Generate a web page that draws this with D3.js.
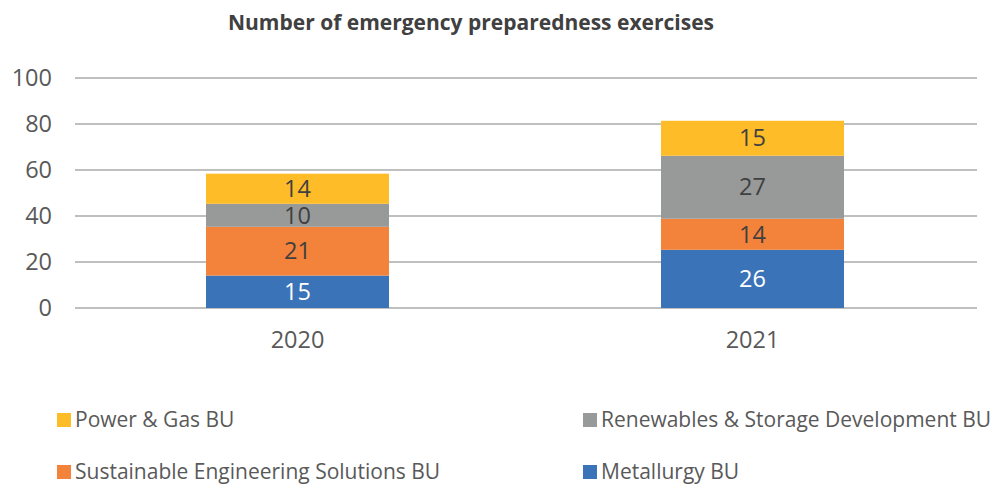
<!DOCTYPE html>
<html>
<head>
<meta charset="utf-8">
<script src="https://cdn.jsdelivr.net/npm/d3@7"></script>
<style>
  body { margin: 0; background: #fff; }
  svg text { font-family: "Open Sans", "Noto Sans", sans-serif; }
</style>
</head>
<body>
<svg width="993" height="490"></svg>
<script>
'use strict';

// data
var years = ["2020", "2021"];
var series = ["Metallurgy BU", "Sustainable Engineering Solutions BU", "Renewables & Storage Development BU", "Power & Gas BU"];
var metallurgy = [14.1, 25.3];
var sustainable = [21.2, 13.5];
var renewables = [10.0, 27.4];
var powerGas = [13.1, 15.2];
// printed labels on segments
var labelMetallurgy = ["15", "26"];
var labelSustainable = ["21", "14"];
var labelRenewables = ["10", "27"];
var labelPowerGas = ["14", "15"];
var yTicks = [0, 20, 40, 60, 80, 100];

var colors = {
  "Metallurgy BU": "#3b73b9",
  "Sustainable Engineering Solutions BU": "#f3823a",
  "Renewables & Storage Development BU": "#989a9a",
  "Power & Gas BU": "#fdbc28"
};
var textColors = {
  "Metallurgy BU": "#ffffff",
  "Sustainable Engineering Solutions BU": "#404040",
  "Renewables & Storage Development BU": "#404040",
  "Power & Gas BU": "#404040"
};

var FS = 21;       // title + legend
var FS_AX = 23.5;  // axis + data labels
var svg = d3.select("svg");
var margin = {left: 75, right: 16, top: 78, bottom: 182};
var width = 993 - margin.left - margin.right;
var height = 490 - margin.top - margin.bottom;

var rows = years.map(function(y, i) {
  return {
    year: y,
    "Metallurgy BU": metallurgy[i],
    "Sustainable Engineering Solutions BU": sustainable[i],
    "Renewables & Storage Development BU": renewables[i],
    "Power & Gas BU": powerGas[i]
  };
});
var labels = {
  "Metallurgy BU": labelMetallurgy,
  "Sustainable Engineering Solutions BU": labelSustainable,
  "Renewables & Storage Development BU": labelRenewables,
  "Power & Gas BU": labelPowerGas
};

var stacked = d3.stack().keys(series)(rows);

var x = d3.scaleBand().domain(years).range([-5, width + 3]).padding(0);
var barW = 183;
var y = d3.scaleLinear().domain([0, 100]).range([height, 0]);

var g = svg.append("g")
  .attr("transform", "translate(" + margin.left + "," + margin.top + ")");

// title
svg.append("text")
  .attr("x", 471)
  .attr("y", 30)
  .attr("text-anchor", "middle")
  .attr("font-size", FS)
  .attr("font-weight", "bold")
  .attr("fill", "#404040")
  .text("Number of emergency preparedness exercises");

// gridlines
g.selectAll(".grid")
  .data(yTicks)
  .enter().append("line")
  .attr("class", "grid")
  .attr("x1", 0)
  .attr("x2", width)
  .attr("y1", function(d) { return y(d); })
  .attr("y2", function(d) { return y(d); })
  .attr("stroke", "#bfbfbf")
  .attr("stroke-width", 2);

// y axis labels
var yAxis = d3.axisLeft(y).tickValues(yTicks).tickSize(0).tickPadding(23);
g.append("g")
  .attr("class", "yaxis")
  .call(yAxis)
  .call(function(a) { a.select(".domain").remove(); })
  .selectAll("text")
  .attr("font-size", FS_AX)
  .attr("fill", "#595959")
  .attr("font-family", "Open Sans, Noto Sans, sans-serif");

// bars
var layer = g.selectAll(".layer")
  .data(stacked)
  .enter().append("g")
  .attr("class", "layer")
  .attr("fill", function(d) { return colors[d.key]; });

layer.selectAll("rect")
  .data(function(d) { return d; })
  .enter().append("rect")
  .attr("x", function(d) { return x(d.data.year) + x.bandwidth() / 2 - barW / 2; })
  .attr("width", barW)
  .attr("y", function(d) { return y(d[1]); })
  .attr("height", function(d) { return y(d[0]) - y(d[1]); });

// segment labels
stacked.forEach(function(s) {
  g.selectAll(".lbl-" + s.index)
    .data(s)
    .enter().append("text")
    .attr("x", function(d) { return x(d.data.year) + x.bandwidth() / 2; })
    .attr("y", function(d) { return (y(d[0]) + y(d[1])) / 2; })
    .attr("dy", "0.35em")
    .attr("text-anchor", "middle")
    .attr("font-size", FS_AX)
    .attr("fill", textColors[s.key])
    .text(function(d, i) { return labels[s.key][i]; });
});

// x axis labels
var xAxis = d3.axisBottom(x).tickSize(0).tickPadding(23);
g.append("g")
  .attr("class", "xaxis")
  .attr("transform", "translate(0," + height + ")")
  .call(xAxis)
  .call(function(a) { a.select(".domain").remove(); })
  .selectAll("text")
  .attr("font-size", FS_AX)
  .attr("fill", "#595959")
  .attr("font-family", "Open Sans, Noto Sans, sans-serif");

// legend
var legendItems = [
  {key: "Power & Gas BU", x: 57, y: 420},
  {key: "Renewables & Storage Development BU", x: 583, y: 420},
  {key: "Sustainable Engineering Solutions BU", x: 57, y: 472},
  {key: "Metallurgy BU", x: 583, y: 472}
];
var legend = svg.selectAll(".legend")
  .data(legendItems)
  .enter().append("g")
  .attr("class", "legend")
  .attr("transform", function(d) { return "translate(" + d.x + "," + d.y + ")"; });

legend.append("rect")
  .attr("x", 0)
  .attr("y", -7)
  .attr("width", 14)
  .attr("height", 14)
  .attr("fill", function(d) { return colors[d.key]; });

legend.append("text")
  .attr("x", 18)
  .attr("y", 0)
  .attr("dy", "0.35em")
  .attr("font-size", FS)
  .attr("fill", "#595959")
  .text(function(d) { return d.key; });
</script>
</body>
</html>
